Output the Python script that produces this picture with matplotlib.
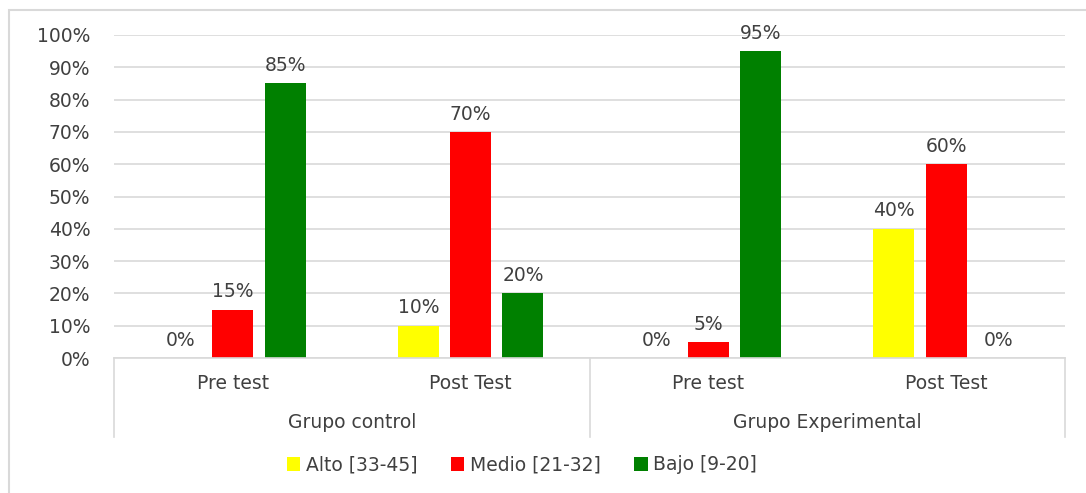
import matplotlib

matplotlib.use("Agg")
import matplotlib.pyplot as plt
import matplotlib.transforms as mtransforms
from matplotlib.patches import Rectangle
from matplotlib.ticker import PercentFormatter

# data
tests = ["Pre test", "Post Test", "Pre test", "Post Test"]
groups = ["Grupo control", "Grupo Experimental"]
series_names = ["Alto [33-45]", "Medio [21-32]", "Bajo [9-20]"]
alto = [0, 10, 0, 40]
medio = [15, 70, 5, 60]
bajo = [85, 20, 95, 0]

colors = ["#FFFF00", "#FF0000", "#008000"]
text_col = "#404040"
grid_col = "#D9D9D9"
fs = 13.5

fig = plt.figure(figsize=(10.86, 4.93), dpi=100)
fig.patch.set_facecolor("white")
ax = fig.add_axes([114 / 1086, 1 - 358 / 493, (1065 - 114) / 1086, (358 - 35) / 493])

x = list(range(len(tests)))
offsets = [-0.22, 0.0, 0.22]
width = 0.173
for vals, name, col, off in zip([alto, medio, bajo], series_names, colors, offsets):
    bars = ax.bar([xi + off for xi in x], vals, width, color=col, label=name, zorder=2)
    for b, v in zip(bars, vals):
        ax.annotate(f"{v}%", (b.get_x() + b.get_width() / 2, v), xytext=(0, 6),
                    textcoords="offset points", ha="center", va="bottom",
                    fontsize=fs, color=text_col)

ax.set_xlim(-0.5, 3.5)
ax.set_ylim(0, 100)
ax.set_yticks(range(0, 101, 10))
ax.yaxis.set_major_formatter(PercentFormatter(decimals=0))
ax.tick_params(axis="y", length=0, pad=17, labelsize=fs, labelcolor=text_col)
ax.tick_params(axis="x", length=0, labelbottom=False)
ax.yaxis.grid(True, color=grid_col, linewidth=1.2, zorder=0)
ax.set_axisbelow(True)
for s in ["top", "right", "left"]:
    ax.spines[s].set_visible(False)
ax.spines["bottom"].set_color(grid_col)
ax.spines["bottom"].set_linewidth(1.2)

# multi-level category axis
trans = mtransforms.blended_transform_factory(ax.transData, ax.transAxes)
for xs in [-0.5, 1.5, 3.5]:
    ax.plot([xs, xs], [0, -0.245], transform=trans, color=grid_col, lw=1.2, clip_on=False)
for xi, t in zip(x, tests):
    ax.text(xi, -0.08, t, transform=trans, ha="center", va="center", fontsize=fs, color=text_col)
for gi, g in enumerate(groups):
    ax.text(gi * 2 + 0.5, -0.2, g, transform=trans, ha="center", va="center", fontsize=fs, color=text_col)

leg = fig.legend(loc="center", bbox_to_anchor=(522 / 1086, 1 - 465 / 493), ncol=3, frameon=False,
                 fontsize=fs, handlelength=0.7, handleheight=0.7, handletextpad=0.3,
                 columnspacing=1.8, labelcolor=text_col)

# chart border
fig.patches.append(Rectangle((9 / 1086, -0.05), 1.1, 1 - 10 / 493 + 0.05, transform=fig.transFigure,
                             fill=False, edgecolor=grid_col, linewidth=1.5))

fig.savefig("out.png", dpi=100, facecolor="white")
